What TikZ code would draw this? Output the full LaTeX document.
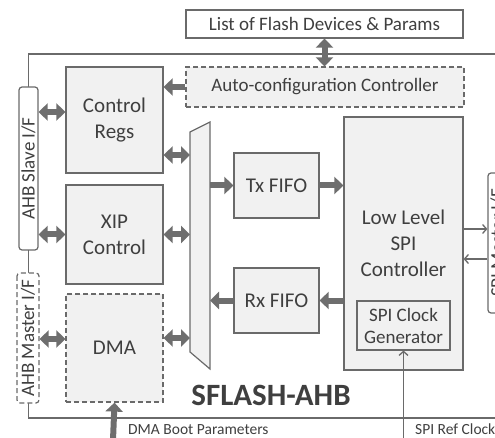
\documentclass[tikz,border=0pt]{standalone}
\usepackage{fontspec}
\setmainfont{Carlito}
\usetikzlibrary{arrows, arrows.meta}
\usetikzlibrary{calc}

\definecolor{boxgray}{HTML}{F1F1F1}
\definecolor{linegray}{HTML}{6A6A6A}
\definecolor{arrowgray}{HTML}{6E6E6E}
\definecolor{textgray}{HTML}{3F3F3F}

\begin{document}
\begin{tikzpicture}[x=1pt, y=-1pt,
    blk/.style={draw=linegray, fill=boxgray, line width=1.2pt, text=textgray, align=center, inner sep=0pt},
    dashblk/.style={blk, dash pattern=on 5pt off 3pt},
    big/.style={font=\fontsize{21}{26}\selectfont},
    mid/.style={font=\fontsize{19}{22}\selectfont},
    lbl/.style={text=textgray, inner sep=0pt, font=\fontsize{15.5}{18}\selectfont},
    fat/.style={draw=arrowgray, line width=6pt, -{Triangle[length=9pt, width=17pt]}},
    fatdbl/.style={draw=arrowgray, line width=6pt, {Triangle[length=9pt, width=17pt]}-{Triangle[length=9pt, width=17pt]}},
    slim/.style={draw=linegray, line width=1.3pt, -{Straight Barb[length=4pt, width=9pt]}}]

      \useasboundingbox (0,0) rectangle (495,438);
      \clip (0,0) rectangle (495,438);

      % outer frame
      \draw[linegray, line width=1.2pt] (28.5,54) rectangle (530,418);

      \node[blk, mid, fill=white, minimum width=277pt, minimum height=28pt] (list) at (324.5,24) {List of Flash Devices \& Params};
      \node[dashblk, mid, minimum width=278pt, minimum height=40pt] (auto) at (325,87) {Auto-configuration Controller};

      \node[blk, big, minimum width=97pt, minimum height=106pt] (ctrl) at (114.5,120) {Control\\Regs};
      \node[blk, big, minimum width=97pt, minimum height=99pt] (xip) at (114.5,234.5) {XIP\\Control};
      \node[dashblk, big, minimum width=97pt, minimum height=108pt] (dma) at (114.5,348) {DMA};

      \node[blk, mid, fill=white, rounded corners=3pt, rotate=90, minimum width=163pt, minimum height=19pt] (slave) at (28.5,168.5) {AHB Slave I/F};
      \node[dashblk, mid, fill=white, rounded corners=3pt, rotate=90, minimum width=130pt, minimum height=22pt] (master) at (28,338) {AHB Master I/F};

      \node[blk, big, minimum width=85pt, minimum height=65pt] (tx) at (276.5,185.5) {Tx FIFO};
      \node[blk, big, minimum width=85pt, minimum height=65pt] (rx) at (276.5,300.5) {Rx FIFO};

      \node[blk, big, minimum width=119pt, minimum height=253pt] (llspi) at (403.5,243.5) {Low Level\\SPI\\Controller};
      \node[blk, mid, minimum width=93pt, minimum height=49pt] (clk) at (403.5,325.5) {SPI Clock\\Generator};

      \node[blk, mid, fill=white, rounded corners=3pt, rotate=90, minimum width=140pt, minimum height=19pt] (spim) at (497.5,243) {SPI Master I/F};

      % mux
      \coordinate (m1) at (190,132);
      \coordinate (m2) at (210,122);
      \coordinate (m3) at (210,369);
      \coordinate (m4) at (190,352);
      \draw[draw=linegray, fill=boxgray, line width=1.2pt] (m1) -- (m2) -- (m3) -- (m4) -- cycle;

      \node[text=textgray, font=\fontsize{31}{31}\selectfont\bfseries] (title) at (271,395) {SFLASH-AHB};
      \node[lbl, anchor=base west] (bootlbl) at (128,434) {DMA Boot Parameters};
      \node[lbl, anchor=base west] (reflbl) at (415,434) {SPI Ref Clock};
      \coordinate (bootsrc) at (113,440);
      \coordinate (refsrc) at (403.5,440);

      \draw[fatdbl] (list.south) -- (list.south |- auto.north);
      \draw[fat] (auto.west) -- (auto.west -| ctrl.east);
      \draw[fatdbl] ([yshift=8pt]ctrl.west) -- ([yshift=8pt]ctrl.west -| slave.south);
      \draw[fatdbl] (xip.west) -- (xip.west -| slave.south);
      \draw[fatdbl] ([yshift=9pt]dma.west) -- ([yshift=9pt]dma.west -| master.south);
      \draw[fatdbl] ([yshift=-35pt]ctrl.east) -- ([yshift=-35pt]ctrl.east -| m1);
      \draw[fatdbl] (xip.east) -- (xip.east -| m1);
      \draw[fatdbl] ([yshift=10pt]dma.east) -- ([yshift=10pt]dma.east -| m1);
      \draw[fat] (tx.west -| m2) -- (tx.west);
      \draw[fat] (rx.west) -- (rx.west -| m2);
      \draw[fat] (tx.east) -- (tx.east -| llspi.west);
      \draw[fat] (rx.east -| llspi.west) -- (rx.east);
      \draw[fat] (bootsrc) -- (dma.south);
      \draw[slim] (refsrc) -- (clk.south);
      \draw[slim] ([yshift=14.5pt]llspi.east) -- ([yshift=14.5pt]llspi.east -| spim.north);
      \draw[slim] ([yshift=-15.5pt]llspi.east -| spim.north) -- ([yshift=-15.5pt]llspi.east);
    \end{tikzpicture}
\end{document}
